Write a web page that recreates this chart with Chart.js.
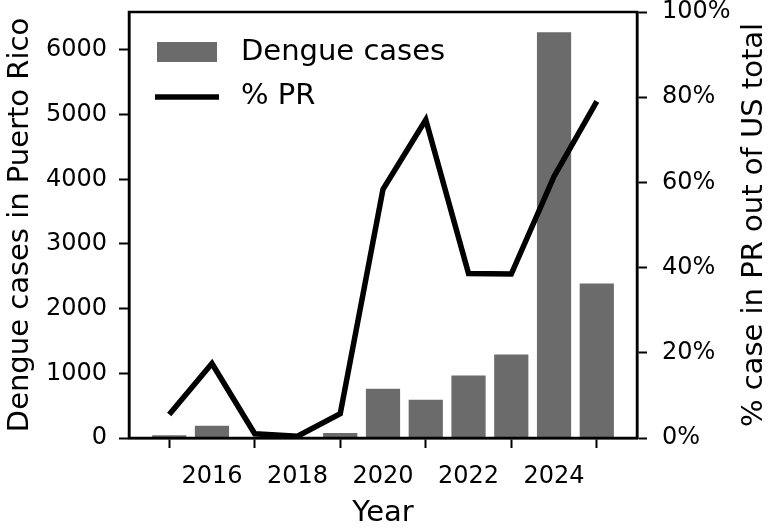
<!DOCTYPE html>
<html>
<head>
<meta charset="utf-8">
<script src="https://cdn.jsdelivr.net/npm/chart.js@4/dist/chart.umd.min.js"></script>
<style>
  html, body { margin: 0; padding: 0; background: #fff; }
  #wrap { width: 768px; height: 530px; }
</style>
</head>
<body>
<div id="wrap"><canvas id="c" width="768" height="530"></canvas></div>
<script>
const years = [2015, 2016, 2017, 2018, 2019, 2020, 2021, 2022, 2023, 2024, 2025];
const dengueCases = [42, 190, 0, 0, 77, 761, 591, 966, 1293, 6274, 2388];
const pctPR = [5.5, 17.5, 1.0, 0.4, 5.7, 58.4, 74.7, 38.6, 38.5, 61.4, 79.0];
const xTicks = [2016, 2018, 2020, 2022, 2024];
const leftTicks = [0, 1000, 2000, 3000, 4000, 5000, 6000];
const rightTicks = [0, 20, 40, 60, 80, 100];
const seriesLabels = ['Dengue cases', '% PR'];
const rightTitle = '% case in PR out of US total';

const FONT = "'DejaVu Sans', sans-serif";
const TICK_FONT = { family: FONT, size: 24 };
const TITLE_FONT = { family: FONT, size: 29, lineHeight: 1 };

const legendPlugin = {
  id: 'customLegend',
  afterDraw(chart) {
    const ctx = chart.ctx;
    const ds = chart.data.datasets;
    ctx.save();
    ctx.fillStyle = ds[0].backgroundColor;
    ctx.fillRect(157, 42, 60, 20);
    ctx.strokeStyle = ds[1].borderColor;
    ctx.lineWidth = ds[1].borderWidth;
    ctx.lineCap = 'butt';
    ctx.beginPath();
    ctx.moveTo(155, 97);
    ctx.lineTo(219, 97);
    ctx.stroke();
    ctx.fillStyle = '#000';
    ctx.font = "29px " + FONT;
    ctx.textBaseline = 'middle';
    ctx.textAlign = 'left';
    ctx.fillText(ds[0].label, 241, 52);
    ctx.fillText(ds[1].label, 241, 96);
    ctx.restore();
  }
};

const framePlugin = {
  id: 'frame',
  afterDatasetsDraw(chart) {
    const a = chart.chartArea;
    const ctx = chart.ctx;
    ctx.save();
    ctx.strokeStyle = '#000';
    ctx.lineWidth = 2.5;
    ctx.strokeRect(a.left, a.top, a.right - a.left, a.bottom - a.top);
    ctx.restore();
  }
};

const rightTitlePlugin = {
  id: 'rightTitle',
  afterDraw(chart) {
    const a = chart.chartArea;
    const ctx = chart.ctx;
    ctx.save();
    ctx.translate(754, (a.top + a.bottom) / 2);
    ctx.rotate(-Math.PI / 2);
    ctx.fillStyle = '#000';
    ctx.font = "29px " + FONT;
    ctx.textAlign = 'center';
    ctx.textBaseline = 'middle';
    ctx.fillText(rightTitle, 0, 0);
    ctx.restore();
  }
};

const noPad = (axis) => { axis.paddingTop = 0; axis.paddingBottom = 0; axis.paddingLeft = 0; axis.paddingRight = 0; };

new Chart(document.getElementById('c'), {
  type: 'bar',
  data: {
    datasets: [
      {
        type: 'bar',
        label: seriesLabels[0],
        data: years.map((y, i) => ({ x: y, y: dengueCases[i] })),
        backgroundColor: '#6b6b6b',
        borderWidth: 0,
        barPercentage: 0.8,
        categoryPercentage: 1.0,
        yAxisID: 'y',
        order: 1
      },
      {
        type: 'line',
        label: seriesLabels[1],
        data: years.map((y, i) => ({ x: y, y: pctPR[i] })),
        borderColor: '#000',
        backgroundColor: '#000',
        borderWidth: 5.5,
        pointRadius: 0,
        tension: 0,
        borderJoinStyle: 'miter',
        borderCapStyle: 'butt',
        fill: false,
        yAxisID: 'y1',
        order: 0
      }
    ]
  },
  options: {
    responsive: false,
    animation: false,
    layout: { padding: { top: 12, left: 0, right: 0, bottom: 0 } },
    plugins: { legend: { display: false }, tooltip: { enabled: false } },
    scales: {
      x: {
        type: 'linear',
        position: 'bottom',
        min: 2014.06,
        max: 2025.94,
        offset: false,
        afterBuildTicks: (axis) => { axis.ticks = xTicks.map(v => ({ value: v })); },
        afterFit: (axis) => { axis.height = 92; noPad(axis); },
        ticks: { font: TICK_FONT, color: '#000', padding: 14, maxRotation: 0, autoSkip: false,
                 callback: (v) => String(v) },
        grid: { display: true, drawOnChartArea: false, drawTicks: true, tickLength: 10, tickColor: '#000', tickWidth: 2 },
        border: { display: true, color: '#000', width: 2.5 },
        title: { display: true, text: 'Year', font: TITLE_FONT, color: '#000', padding: { top: 0, bottom: 2 } }
      },
      y: {
        type: 'linear',
        position: 'left',
        min: 0,
        max: 6587,
        afterBuildTicks: (axis) => { axis.ticks = leftTicks.map(v => ({ value: v })); },
        afterFit: (axis) => { axis.width = 129; noPad(axis); },
        ticks: { font: TICK_FONT, color: '#000', padding: 12, callback: (v) => String(v) },
        grid: { display: true, drawOnChartArea: false, drawTicks: true, tickLength: 10, tickColor: '#000', tickWidth: 2 },
        border: { display: true, color: '#000', width: 2.5 },
        title: { display: true, text: 'Dengue cases in Puerto Rico', font: TITLE_FONT, color: '#000', padding: { top: 6, bottom: 0 } }
      },
      y1: {
        type: 'linear',
        position: 'right',
        min: 0,
        max: 100,
        afterBuildTicks: (axis) => { axis.ticks = rightTicks.map(v => ({ value: v })); },
        afterFit: (axis) => { axis.width = 131; noPad(axis); },
        ticks: { font: TICK_FONT, color: '#000', padding: 15, callback: (v) => v + '%' },
        grid: { display: true, drawOnChartArea: false, drawTicks: true, tickLength: 10, tickColor: '#000', tickWidth: 2 },
        border: { display: true, color: '#000', width: 2.5 },
        title: { display: false }
      }
    }
  },
  plugins: [legendPlugin, framePlugin, rightTitlePlugin]
});
</script>
</body>
</html>
